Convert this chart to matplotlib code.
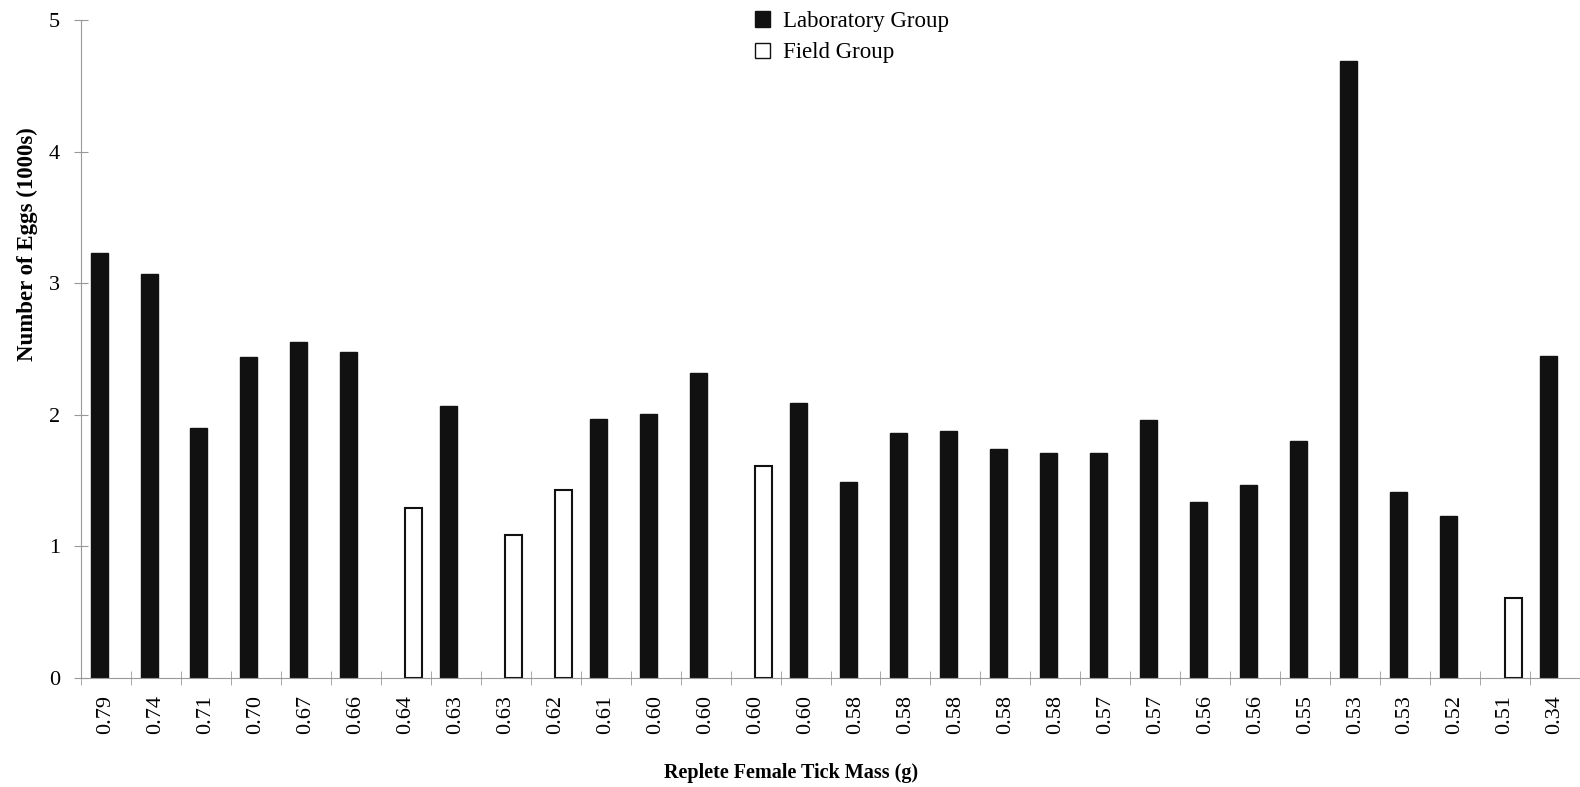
import numpy as np
import matplotlib
matplotlib.use("Agg")
import matplotlib.pyplot as plt
from matplotlib.patches import Patch

plt.rcParams['font.family'] = ['Liberation Serif', 'DejaVu Serif']

# masa de la garrapata (etiquetas del eje x)
masses = ["0.79", "0.74", "0.71", "0.70", "0.67", "0.66", "0.64", "0.63", "0.63", "0.62",
          "0.61", "0.60", "0.60", "0.60", "0.60", "0.58", "0.58", "0.58", "0.58", "0.58",
          "0.57", "0.57", "0.56", "0.56", "0.55", "0.53", "0.53", "0.52", "0.51", "0.34"]

nan = np.nan
# huevos (miles), grupo de laboratorio
lab_eggs = [3.23, 3.07, 1.90, 2.44, 2.55, 2.48, nan, 2.07, nan, nan,
            1.97, 2.01, 2.32, nan, 2.09, 1.49, 1.86, 1.88, 1.74, 1.71,
            1.71, 1.96, 1.34, 1.47, 1.80, 4.69, 1.41, 1.23, nan, 2.45]
# huevos (miles), grupo de campo
field_eggs = [nan, nan, nan, nan, nan, nan, 1.29, nan, 1.09, 1.43,
              nan, nan, nan, 1.61, nan, nan, nan, nan, nan, nan,
              nan, nan, nan, nan, nan, nan, nan, nan, 0.61, nan]

x = np.arange(len(masses))

fig = plt.figure(figsize=(15.8, 7.87), dpi=100)
ax = fig.add_axes([0.0513, 0.1385, 0.9487, 0.836])

ax.bar(x - 0.14, lab_eggs, width=0.34, color="#111111", edgecolor="#111111")
ax.bar(x + 0.16, field_eggs, width=0.34, color="white", edgecolor="#111111", linewidth=1.5)

ax.set_xlim(-0.5, len(masses) - 0.5)
ax.set_ylim(0, 5)
ax.set_yticks(range(6))

ax.set_xticks(x)
ax.set_xticklabels(masses, rotation=90, fontsize=16)
ax.set_xticks(np.arange(-0.5, len(masses)), minor=True)
ax.tick_params(axis="x", which="major", length=0, pad=12)
ax.tick_params(axis="x", which="minor", direction="inout", length=10, color="#999999")
ax.tick_params(axis="y", direction="inout", length=10, color="#999999", labelsize=16, pad=10)

for s in ["top", "right"]:
    ax.spines[s].set_visible(False)
for s in ["left", "bottom"]:
    ax.spines[s].set_color("#999999")

ax.set_ylabel("Number of Eggs (1000s)", fontsize=16.5, fontweight="bold")
ax.yaxis.set_label_coords(-0.029, 0.66)
ax.set_xlabel("Replete Female Tick Mass (g)", fontsize=14.5, fontweight="bold")
ax.xaxis.set_label_coords(0.474, -0.129)

handles = [Patch(facecolor="#111111", edgecolor="#111111", label="Laboratory Group"),
           Patch(facecolor="white", edgecolor="#111111", label="Field Group")]
ax.legend(handles=handles, loc="upper left", bbox_to_anchor=(0.436, 1.045), frameon=False,
          fontsize=16.5, handlelength=0.65, handleheight=0.65, handletextpad=0.55, labelspacing=0.45)

plt.savefig("out.png", dpi=100)
